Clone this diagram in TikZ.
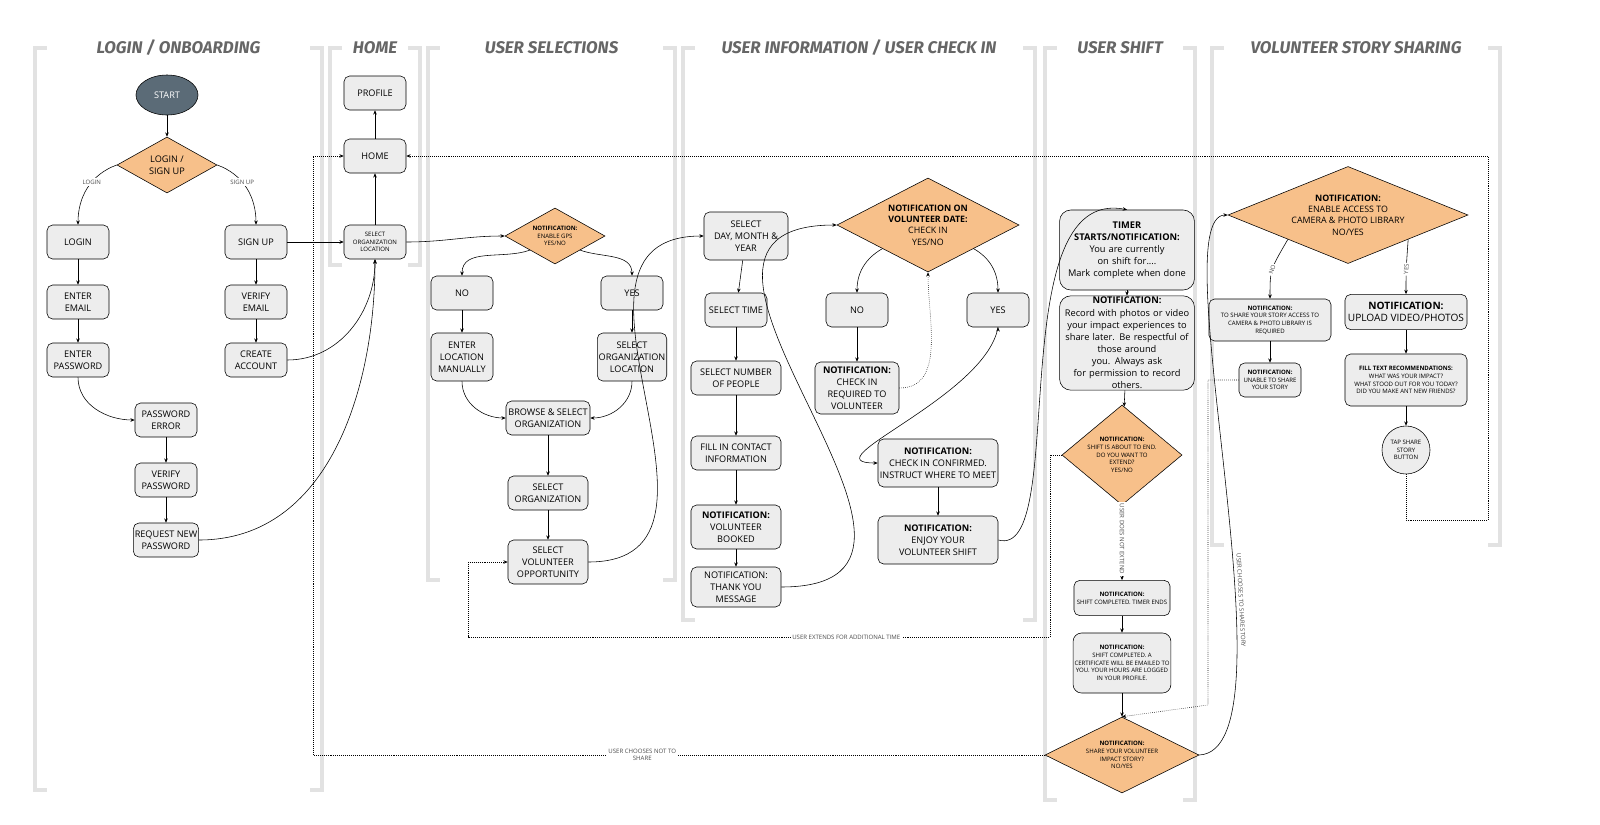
\documentclass[tikz,border=0pt]{standalone}
\usepackage{fontspec}
\setmainfont{Open Sans}
\newfontfamily\headfont{Fira Sans}
\usetikzlibrary{shapes.geometric,arrows.meta}
\definecolor{boxgray}{HTML}{EDEDED}
\definecolor{decision}{HTML}{F7C08A}
\definecolor{slate}{HTML}{5B6B77}
\definecolor{bracket}{HTML}{E2E2E2}
\tikzset{
  task/.style={draw, rounded corners=4pt, fill=boxgray, align=center, inner sep=1pt,
    font=\fontsize{6.5}{8.5}\selectfont, minimum width=1.55cm, minimum height=0.85cm},
  small/.style={task, font=\fontsize{4.3}{5.5}\selectfont},
  big/.style={task, font=\fontsize{6.6}{8.6}\selectfont},
  choice/.style={diamond, draw, fill=decision, align=center, inner sep=-2pt,
    font=\fontsize{4.3}{5.5}\selectfont},
  flow/.style={-{Stealth[length=3pt,width=2.5pt]}, thin},
  back/.style={flow, densely dotted},
  lbl/.style={font=\fontsize{4.3}{5}\selectfont, text=black!70, fill=white, inner sep=1pt},
  lane/.style={line width=3pt, bracket},
  title/.style={font=\headfont\bfseries\itshape\fontsize{12}{12}\selectfont, text=black!60}
}
\newcommand{\lanebox}[5]{% left, right, top, bottom, title
  \draw[lane] (#1+12,#3) -- (#1,#3) -- (#1,#4) -- (#1+12,#4);
  \draw[lane] (#2-12,#3) -- (#2,#3) -- (#2,#4) -- (#2-12,#4);
  \node[title, fill=white] at ({(#1+#2)/2},#3) {#5};
}
\begin{document}
\begin{tikzpicture}[x=0.025cm, y=-0.025cm]
		\useasboundingbox (0,0) rectangle (1600,824);
		% lanes
		\lanebox{35}{322}{48}{790}{LOGIN / ONBOARDING}
		\lanebox{330}{420}{48}{265}{HOME}
		\lanebox{428}{675}{48}{580}{USER SELECTIONS}
		\lanebox{683}{1035}{48}{620}{USER INFORMATION / USER CHECK IN}
		\lanebox{1045}{1195}{48}{800}{USER SHIFT}
		\lanebox{1212}{1500}{48}{545}{VOLUNTEER STORY SHARING}

		% login / onboarding
		\draw (167,95) node [ellipse, draw, fill=slate, text=white, minimum width=1.55cm, minimum height=1cm, font=\fontsize{6.5}{8}\selectfont] (start) {START};
		\draw (167,165) node [choice, minimum width=2.5cm, minimum height=1.4cm, font=\fontsize{6.5}{8.5}\selectfont] (entry) {LOGIN /\\SIGN UP};
		\draw (78,242) node [task] (login) {LOGIN};
		\draw (78,302) node [task] (email) {ENTER\\EMAIL};
		\draw (78,360) node [task] (pass) {ENTER\\PASSWORD};
		\draw (166,420) node [task] (passerr) {PASSWORD\\ERROR};
		\draw (166,480) node [task] (verpass) {VERIFY\\PASSWORD};
		\draw (166,540) node [task] (newpass) {REQUEST NEW\\PASSWORD};
		\draw (256,242) node [task] (signup) {SIGN UP};
		\draw (256,302) node [task] (veremail) {VERIFY\\EMAIL};
		\draw (256,360) node [task] (account) {CREATE\\ACCOUNT};

		% home
		\draw (375,93) node [task] (profile) {PROFILE};
		\draw (375,156) node [task] (home) {HOME};
		\draw (375,242) node [small] (orgloc) {SELECT\\ORGANIZATION\\LOCATION};

		% user selections
		\draw (555,236) node [choice, minimum width=2.5cm, minimum height=1.4cm] (gps) {\textbf{NOTIFICATION:}\\ENABLE GPS\\YES/NO};
		\draw (462,293) node [task] (gpsno) {NO};
		\draw (632,293) node [task] (gpsyes) {YES};
		\draw (462,357) node [task, minimum height=1.2cm] (manual) {ENTER\\LOCATION\\MANUALLY};
		\draw (632,357) node [task, minimum height=1.2cm] (pickloc) {SELECT\\ORGANIZATION\\LOCATION};
		\draw (548,418) node [task, minimum width=2.1cm] (browse) {BROWSE \& SELECT\\ORGANIZATION};
		\draw (548,493) node [task, minimum width=2cm] (pickorg) {SELECT\\ORGANIZATION};
		\draw (548,562) node [task, minimum width=2cm, minimum height=1.1cm] (opp) {SELECT\\VOLUNTEER\\OPPORTUNITY};

		% user information / check in
		\draw (746,236) node [task, minimum width=2.1cm, minimum height=1.2cm] (date) {SELECT\\DAY, MONTH \&\\YEAR};
		\draw (736,310) node [task] (time) {SELECT TIME};
		\draw (736,378) node [task, minimum width=2.25cm] (people) {SELECT NUMBER\\OF PEOPLE};
		\draw (736,453) node [task, minimum width=2.25cm] (contact) {FILL IN CONTACT\\INFORMATION};
		\draw (736,527) node [task, minimum width=2.25cm, minimum height=1.1cm] (booked) {\textbf{NOTIFICATION:}\\VOLUNTEER\\BOOKED};
		\draw (736,587) node [task, minimum width=2.25cm, minimum height=1cm] (thanks) {NOTIFICATION:\\THANK YOU\\MESSAGE};
		\draw (928,225) node [choice, inner sep=-9pt, minimum width=4.55cm, minimum height=2.35cm, font=\fontsize{6.3}{8}\selectfont] (checkin) {\textbf{NOTIFICATION ON}\\\textbf{VOLUNTEER DATE:}\\CHECK IN\\YES/NO};
		\draw (857,310) node [task] (inno) {NO};
		\draw (998,310) node [task] (inyes) {YES};
		\draw (857,388) node [task, minimum width=2.1cm, minimum height=1.3cm] (required) {\textbf{NOTIFICATION:}\\CHECK IN\\REQUIRED TO\\VOLUNTEER};
		\draw (938,463) node [task, minimum width=3cm, minimum height=1.2cm] (confirmed) {\textbf{NOTIFICATION:}\\CHECK IN CONFIRMED.\\INSTRUCT WHERE TO MEET};
		\draw (938,540) node [task, minimum width=3cm, minimum height=1.2cm] (enjoy) {\textbf{NOTIFICATION:}\\ENJOY YOUR\\VOLUNTEER SHIFT};

		% user shift
		\draw (1127,250) node [big, rounded corners=8pt, text width=3.3cm, minimum height=2cm] (timer) {\textbf{TIMER}\\\textbf{STARTS/NOTIFICATION:}\\You are currently on shift for....\\Mark complete when done};
		\draw (1127,343) node [big, rounded corners=8pt, text width=3.3cm, minimum height=2.35cm] (record) {\textbf{NOTIFICATION:}\\Record with photos or video\\your impact experiences to\\share later. Be respectful of\\those around you. Always ask\\for permission to record\\others.};
		\draw (1122,455) node [choice, inner sep=-4pt, minimum width=3cm, minimum height=2.5cm] (extend) {\textbf{NOTIFICATION:}\\SHIFT IS ABOUT TO END.\\DO YOU WANT TO\\EXTEND?\\YES/NO};
		\draw (1122,598) node [small, minimum width=2.4cm, minimum height=0.88cm] (done) {\textbf{NOTIFICATION:}\\SHIFT COMPLETED. TIMER ENDS};
		\draw (1122,663) node [small, rounded corners=6pt, minimum width=2.4cm, minimum height=1.5cm] (certificate) {\textbf{NOTIFICATION:}\\SHIFT COMPLETED. A\\CERTIFICATE WILL BE EMAILED TO\\YOU. YOUR HOURS ARE LOGGED\\IN YOUR PROFILE.};
		\draw (1122,755) node [choice, inner sep=-5pt, minimum width=3.85cm, minimum height=1.9cm] (share) {\textbf{NOTIFICATION:}\\SHARE YOUR VOLUNTEER\\IMPACT STORY?\\NO/YES};

		% volunteer story sharing
		\draw (1348,215) node [choice, inner sep=-10pt, minimum width=6cm, minimum height=2.3cm, font=\fontsize{6.3}{8}\selectfont] (camera) {\textbf{NOTIFICATION:}\\ENABLE ACCESS TO\\CAMERA \& PHOTO LIBRARY\\NO/YES};
		\draw (1270,320) node [small, minimum width=3.05cm, minimum height=1.05cm] (denied) {\textbf{NOTIFICATION:}\\TO SHARE YOUR STORY ACCESS TO\\CAMERA \& PHOTO LIBRARY IS\\REQUIRED};
		\draw (1406,312) node [task, minimum width=3.05cm, minimum height=0.88cm, font=\fontsize{7.2}{9}\selectfont] (upload) {\textbf{NOTIFICATION:}\\UPLOAD VIDEO/PHOTOS};
		\draw (1270,380) node [small] (unable) {\textbf{NOTIFICATION:}\\UNABLE TO SHARE\\YOUR STORY};
		\draw (1406,380) node [small, minimum width=3.05cm, minimum height=1.3cm] (prompts) {\textbf{FILL TEXT RECOMMENDATIONS:}\\WHAT WAS YOUR IMPACT?\\WHAT STOOD OUT FOR YOU TODAY?\\DID YOU MAKE ANT NEW FRIENDS?};
		\draw (1406,450) node [circle, draw, fill=boxgray, align=center, inner sep=0pt, minimum size=1.2cm, font=\fontsize{4.3}{5.5}\selectfont] (tap) {TAP SHARE\\STORY\\BUTTON};

		\draw[flow]
			(start) edge (entry)
			(entry.west) edge [out=200, in=90] node [lbl, pos=0.4] {LOGIN} (login)
			(entry.east) edge [out=-20, in=90] node [lbl, pos=0.4] {SIGN UP} (signup)
			(login) edge (email)
			(email) edge (pass)
			(pass) edge [out=-90, in=180] (passerr)
			(passerr) edge (verpass)
			(verpass) edge (newpass)
			(newpass.east) edge [out=0, in=-90] (orgloc.south)
			(signup) edge (veremail)
			(veremail) edge (account)
			(account.east) edge [out=0, in=-90] (orgloc.south)
			(signup) edge (orgloc)
			(orgloc) edge (home)
			(home) edge (profile)
			(orgloc.east) edge [out=0, in=180] (gps.west)
			(gps.south west) edge [out=200, in=90] (gpsno)
			(gps.south east) edge [out=-20, in=90] (gpsyes)
			(gpsno) edge (manual)
			(gpsyes) edge (pickloc)
			(manual.south) edge [out=-90, in=180] (browse.west)
			(pickloc.south) edge [out=-90, in=0] (browse.east)
			(browse) edge (pickorg)
			(pickorg) edge (opp)
			(opp.east) edge [out=0, in=180, looseness=1.3] (date.west)
			(date) edge (time)
			(time) edge (people)
			(people) edge (contact)
			(contact) edge (booked)
			(booked) edge (thanks)
			(thanks.east) edge [out=0, in=180, looseness=1.6] (checkin.west)
			(checkin.south west) edge [out=210, in=90] (inno.north)
			(checkin.south east) edge [out=-30, in=90] (inyes.north)
			(inno) edge (required)
			(required.east) edge [densely dotted, out=0, in=-90] (checkin.south)
			(inyes.south) edge [out=-100, in=180] (confirmed.west)
			(confirmed) edge (enjoy)
			(timer) edge (record)
			(record) edge (extend)
			(extend) edge node [lbl, sloped, pos=0.45] {USER DOES NOT EXTEND} (done)
			(done) edge (certificate)
			(certificate) edge (share)
			(denied) edge (unable)
			(upload) edge (prompts)
			(prompts) edge (tap)
		;
		\draw[flow] (enjoy.east) .. controls (1070,560) and (1000,185) .. (timer.north);
		\draw[flow] (share.east) .. controls (1300,750) and (1160,215) .. node [lbl, sloped, pos=0.35, above=1pt, fill=none] {USER CHOOSES TO SHARE STORY} (camera.west);
		\draw[flow] (camera.south west) .. controls (1270,270) .. node [lbl, sloped] {NO} (denied.north);
		\draw[flow] (camera.south east) .. controls (1406,270) .. node [lbl, sloped] {YES} (upload.north);

		% dotted loops back
		\draw[back] (extend.west) -- (1050,455) -- (1050,637) -- node [lbl, pos=0.35] {USER EXTENDS FOR ADDITIONAL TIME} (468,637) -- (468,562) -- (opp.west);
		\draw[back] (share.west) -- node [lbl, pos=0.55, align=center] {USER CHOOSES NOT TO\\SHARE} (313,755) -- (313,156) -- (home.west);
		\draw[back] (unable.west) -- (1208,380) -- (1208,705) -- (share.north);
		\draw[back] (tap.south) -- (1406,520) -- (1488,520) -- (1488,156) -- (home.east);
\end{tikzpicture}
\end{document}
